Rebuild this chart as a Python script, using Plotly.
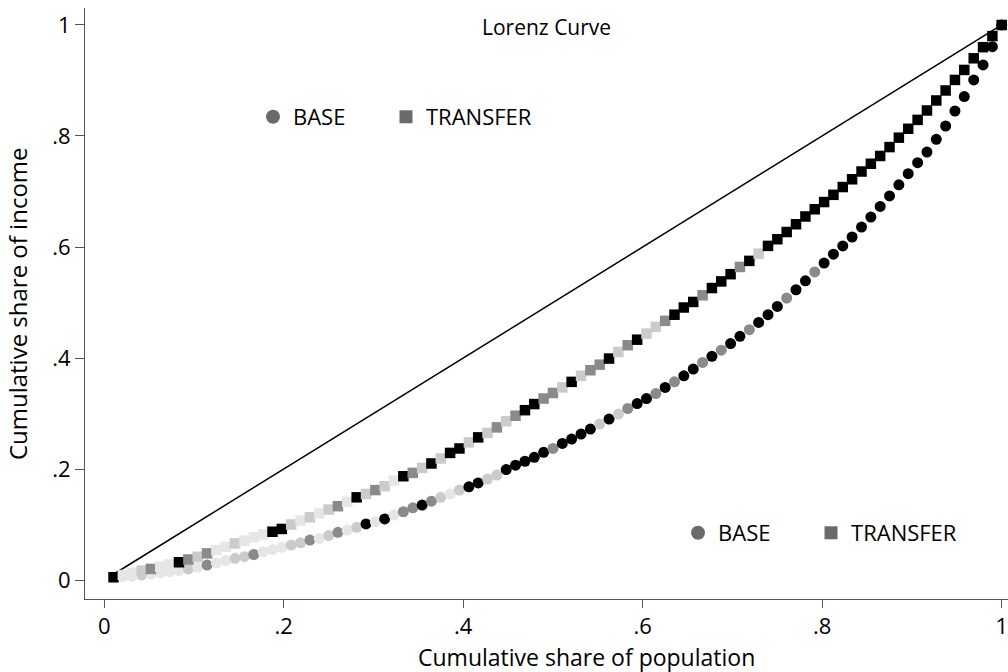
import plotly.graph_objects as go

# Cumulative share of population (96 groups)
POP_SHARE = [0.0104, 0.0208, 0.0313, 0.0417, 0.0521, 0.0625, 0.0729, 0.0833, 0.0938, 0.1042,
             0.1146, 0.1250, 0.1354, 0.1458, 0.1563, 0.1667, 0.1771, 0.1875, 0.1979, 0.2083,
             0.2188, 0.2292, 0.2396, 0.2500, 0.2604, 0.2708, 0.2813, 0.2917, 0.3021, 0.3125,
             0.3229, 0.3333, 0.3438, 0.3542, 0.3646, 0.3750, 0.3854, 0.3958, 0.4063, 0.4167,
             0.4271, 0.4375, 0.4479, 0.4583, 0.4688, 0.4792, 0.4896, 0.5000, 0.5104, 0.5208,
             0.5313, 0.5417, 0.5521, 0.5625, 0.5729, 0.5833, 0.5938, 0.6042, 0.6146, 0.6250,
             0.6354, 0.6458, 0.6563, 0.6667, 0.6771, 0.6875, 0.6979, 0.7083, 0.7188, 0.7292,
             0.7396, 0.7500, 0.7604, 0.7708, 0.7813, 0.7917, 0.8021, 0.8125, 0.8229, 0.8333,
             0.8438, 0.8542, 0.8646, 0.8750, 0.8854, 0.8958, 0.9063, 0.9167, 0.9271, 0.9375,
             0.9479, 0.9583, 0.9688, 0.9792, 0.9896, 1.0000]

# Cumulative share of income, BASE
BASE_Y = [0.004, 0.006, 0.007, 0.009, 0.011, 0.013, 0.015, 0.017, 0.020, 0.023,
          0.027, 0.031, 0.035, 0.039, 0.042, 0.046, 0.051, 0.055, 0.059, 0.063,
          0.067, 0.072, 0.075, 0.080, 0.086, 0.090, 0.095, 0.101, 0.105, 0.110,
          0.117, 0.123, 0.130, 0.135, 0.142, 0.149, 0.155, 0.162, 0.168, 0.175,
          0.182, 0.189, 0.199, 0.207, 0.214, 0.221, 0.230, 0.237, 0.246, 0.254,
          0.263, 0.272, 0.281, 0.290, 0.299, 0.309, 0.318, 0.327, 0.336, 0.347,
          0.357, 0.368, 0.380, 0.392, 0.403, 0.414, 0.426, 0.439, 0.451, 0.464,
          0.478, 0.493, 0.508, 0.523, 0.539, 0.555, 0.571, 0.587, 0.602, 0.618,
          0.636, 0.654, 0.673, 0.692, 0.712, 0.732, 0.752, 0.771, 0.794, 0.818,
          0.845, 0.871, 0.901, 0.928, 0.961, 1.000]

# Cumulative share of income, TRANSFER
TRANSFER_Y = [0.005, 0.009, 0.013, 0.017, 0.020, 0.024, 0.028, 0.032, 0.037, 0.042,
              0.048, 0.054, 0.060, 0.066, 0.071, 0.077, 0.082, 0.087, 0.092, 0.100,
              0.107, 0.113, 0.120, 0.127, 0.133, 0.141, 0.149, 0.155, 0.162, 0.169,
              0.179, 0.187, 0.193, 0.202, 0.210, 0.219, 0.229, 0.237, 0.248, 0.257,
              0.265, 0.275, 0.286, 0.296, 0.306, 0.317, 0.327, 0.337, 0.347, 0.357,
              0.368, 0.378, 0.388, 0.399, 0.411, 0.423, 0.433, 0.444, 0.456, 0.467,
              0.478, 0.491, 0.501, 0.513, 0.526, 0.538, 0.551, 0.564, 0.575, 0.588,
              0.602, 0.614, 0.627, 0.641, 0.655, 0.668, 0.681, 0.694, 0.708, 0.722,
              0.736, 0.750, 0.764, 0.780, 0.797, 0.813, 0.829, 0.846, 0.864, 0.882,
              0.901, 0.919, 0.940, 0.960, 0.980, 1.000]

# Marker shade per point: K black, G gray, L light gray, V very light gray
BASE_SHADE = list("VVVLVVVVLVGVVLLGVVVLLGVLGVLKVKVGGKGLVLKKLLKKKKKGKKKKLKLGKKGKGKKGKGKKGKKKGKKGKKKKKKKKKKKKKKKKKKKK")
TRANSFER_SHADE = list("KVVLGVVKGLGVVLVVVKKLVLVLGVKLGLVKGLKLKKLKLGLGKKGGLKLGGKLGKLLGKKKGKKKGKLKKKKKKKKKKKKKKKKKKKKKKKKKK")

SHADE_COLORS = {"K": "#000000", "G": "#8a8a8a", "L": "#cbcbcb", "V": "#e6e6e6"}

# Line of equality
EQ_X = [0.0104, 1.0]
EQ_Y = [0.0104, 1.0]

TICK_VALS = [0, 0.2, 0.4, 0.6, 0.8, 1]
TICK_TEXT = ["0", ".2", ".4", ".6", ".8", "1"]

SERIES_NAMES = ["BASE", "TRANSFER"]

FONT = "Open Sans"
LEGEND_GRAY = "#6a6a6a"

fig = go.Figure()

fig.add_trace(go.Scatter(x=EQ_X, y=EQ_Y, mode="lines",
                         line=dict(color="black", width=1.5),
                         showlegend=False, hoverinfo="skip"))

fig.add_trace(go.Scatter(x=POP_SHARE[:len(BASE_Y)], y=BASE_Y, mode="markers", name=SERIES_NAMES[0],
                         marker=dict(symbol="circle", size=11,
                                     color=[SHADE_COLORS[s] for s in BASE_SHADE],
                                     line=dict(width=0)),
                         showlegend=False))

fig.add_trace(go.Scatter(x=POP_SHARE[:len(TRANSFER_Y)], y=TRANSFER_Y, mode="markers", name=SERIES_NAMES[1],
                         marker=dict(symbol="square", size=10.5,
                                     color=[SHADE_COLORS[s] for s in TRANSFER_SHADE],
                                     line=dict(width=0)),
                         showlegend=False))

# Two legend blocks (top-left and bottom-right), one legend per entry
legend_ids = [("legend", "circle", SERIES_NAMES[0]), ("legend2", "square", SERIES_NAMES[1]),
              ("legend3", "circle", SERIES_NAMES[0]), ("legend4", "square", SERIES_NAMES[1])]
for lg, sym, nm in legend_ids:
    fig.add_trace(go.Scatter(x=[None], y=[None], mode="markers", name=nm,
                             marker=dict(symbol=sym, size=14 if sym == "circle" else 13,
                                         color=LEGEND_GRAY),
                             legend=lg, showlegend=True))

axis_common = dict(showgrid=False, zeroline=False, showline=True, linecolor="#555555",
                   linewidth=1, ticks="outside", tickcolor="#555555", tickwidth=1,
                   tickvals=TICK_VALS, ticktext=TICK_TEXT, ticklabeloverflow="allow",
                   tickfont=dict(family=FONT, size=22, color="black"))

legend_common = dict(orientation="h", bgcolor="rgba(0,0,0,0)", borderwidth=0,
                     font=dict(family=FONT, size=22, color="black"),
                     xanchor="left", yanchor="middle", itemsizing="trace")

fig.update_layout(
    width=1008, height=672,
    margin=dict(l=85, r=0, t=8, b=73),
    paper_bgcolor="white", plot_bgcolor="white",
    font=dict(family=FONT, size=22, color="black"),
    xaxis=dict(range=[-0.0214, 1.007], ticklen=8, **axis_common),
    yaxis=dict(range=[-0.0342, 1.0306], ticklen=9, **axis_common),
    legend=dict(x=0.182, y=0.8156, **legend_common),
    legend2=dict(x=0.3261, y=0.8156, **legend_common),
    legend3=dict(x=0.6425, y=0.1117, **legend_common),
    legend4=dict(x=0.7866, y=0.1117, **legend_common),
    annotations=[
        dict(text="Lorenz Curve", xref="paper", yref="paper", x=0.5, y=0.968,
             xanchor="center", yanchor="middle", showarrow=False,
             font=dict(family=FONT, size=21, color="black")),
        dict(text="Cumulative share of population", xref="paper", yref="paper",
             x=0.543, y=-0.0981, xanchor="center", yanchor="middle", showarrow=False,
             font=dict(family=FONT, size=23, color="black")),
        dict(text="Cumulative share of income", xref="paper", yref="paper",
             x=-0.073, y=0.5, xanchor="center", yanchor="middle", textangle=-90,
             showarrow=False, font=dict(family=FONT, size=24, color="black")),
    ],
)

fig.write_html("out.html")
